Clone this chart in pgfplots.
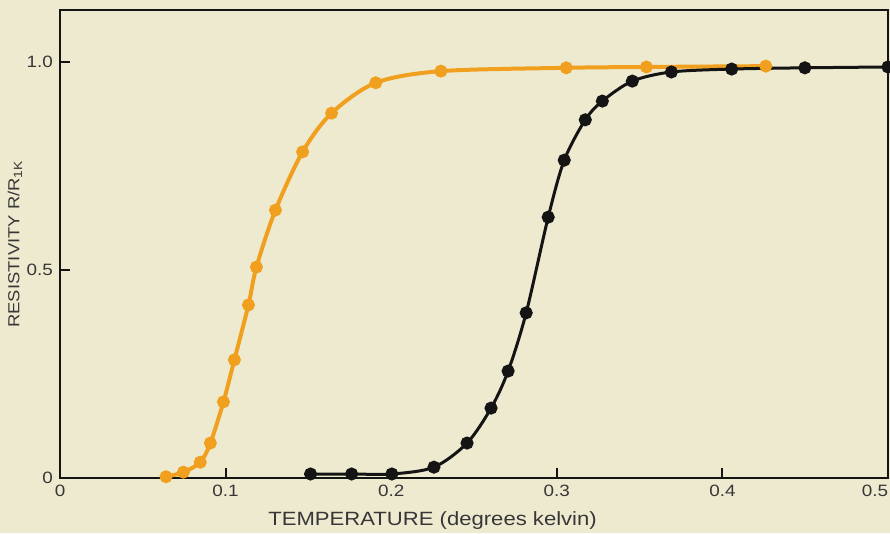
\documentclass[border=0pt]{standalone}
\usepackage{pgfplots}
\pgfplotsset{compat=1.18}
\usepackage{fontspec}
\setmainfont{Liberation Sans}[FakeStretch=1.15]
\definecolor{paper}{RGB}{238,234,208}
\definecolor{amber}{RGB}{240,160,30}
\definecolor{ink}{RGB}{20,20,20}
\pagecolor{paper}
\begin{document}
\begin{tikzpicture}
  \begin{axis}[
    scale only axis,
    width=414pt, height=234pt,
    xmin=0, xmax=0.5, ymin=0, ymax=1.125,
    axis line style={ink, line width=1.2pt},
    tick style={ink, line width=1pt},
    tick align=inside, major tick length=5pt,
    xtick pos=left, ytick pos=left,
    xtick={0,0.1,0.2,0.3,0.4,0.5},
    xticklabels={0,0.1,0.2,0.3,0.4,\makebox[0pt][r]{0.5}},
    ytick={0,0.5,1},
    yticklabels={0,0.5,1.0},
    ticklabel style={font=\fontsize{8.2}{9}\selectfont, text=ink!85},
    xlabel={TEMPERATURE (degrees kelvin)},
    ylabel={RESISTIVITY R/R\textsubscript{1K}},
    xlabel style={at={(rel axis cs:0.45,-0.09)}, anchor=center,
      font=\fontsize{9.6}{10}\selectfont, text=ink!85},
    ylabel style={at={(rel axis cs:-0.0543,0.5)}, anchor=center,
      font=\fontsize{8}{9}\selectfont, text=ink!85},
    clip=false]

    % higher critical temperature sample (orange)
    \addplot[color=amber, line width=2pt, smooth, tension=0.5,
      mark=*, mark size=2.2pt, mark options={fill=amber, draw=amber}] coordinates {
      (0.064, 0.003)
      (0.0745, 0.014)
      (0.0847, 0.038)
      (0.0908, 0.084)
      (0.0987, 0.183)
      (0.1053, 0.284)
      (0.1138, 0.416)
      (0.1186, 0.507)
      (0.1301, 0.644)
      (0.1465, 0.784)
      (0.164, 0.877)
      (0.1907, 0.950)
      (0.230, 0.978)
      (0.3057, 0.986)
      (0.3541, 0.988)
      (0.4262, 0.990)
    };
    % lower critical temperature sample (black)
    \addplot[color=ink, line width=1.5pt, smooth, tension=0.5,
      mark=*, mark size=2.5pt, mark options={fill=ink, draw=ink}] coordinates {
      (0.1513, 0.0096)
      (0.1761, 0.0096)
      (0.2004, 0.0096)
      (0.2258, 0.026)
      (0.2458, 0.084)
      (0.2603, 0.168)
      (0.2706, 0.257)
      (0.2815, 0.397)
      (0.2948, 0.627)
      (0.3045, 0.764)
      (0.3172, 0.861)
      (0.3275, 0.906)
      (0.3456, 0.954)
      (0.3692, 0.976)
      (0.4056, 0.983)
      (0.4498, 0.986)
      (0.5, 0.988)
    };
  \end{axis}
  \pgfresetboundingbox
  \path ([shift={(-30pt,-27.5pt)}]current axis.south west)
    rectangle ([shift={(1pt,5pt)}]current axis.north east);
\end{tikzpicture}
\end{document}
